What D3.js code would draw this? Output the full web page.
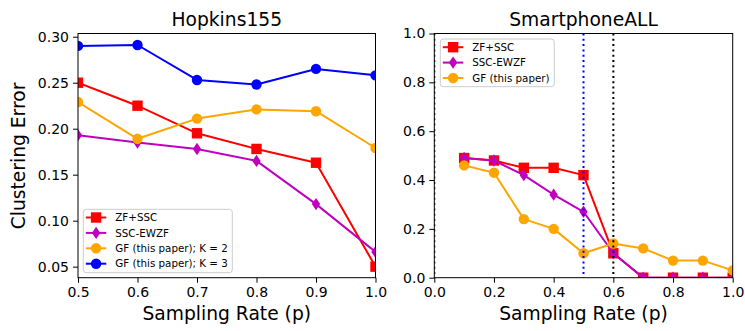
<!DOCTYPE html>
<html><head><meta charset="utf-8">
<script src="https://cdn.jsdelivr.net/npm/d3@7"></script>
<style>body{margin:0;background:#fff}svg{font-family:"DejaVu Sans",sans-serif}</style>
</head><body>
<svg id="c" width="745" height="331"></svg>
<script>
// ---- Data ----
const hopX = [0.5, 0.6, 0.7, 0.8, 0.9, 1.0];
const hopZF = [0.250, 0.225, 0.195, 0.178, 0.163, 0.050];
const hopEWZF = [0.193, 0.185, 0.178, 0.165, 0.118, 0.066];
const hopGF2 = [0.229, 0.189, 0.211, 0.221, 0.219, 0.179];
const hopGF3 = [0.290, 0.291, 0.253, 0.248, 0.265, 0.258];
const hopYTicks = [0.05, 0.10, 0.15, 0.20, 0.25, 0.30];
const hopXTicks = [0.5, 0.6, 0.7, 0.8, 0.9, 1.0];

const smX = [0.1, 0.2, 0.3, 0.4, 0.5, 0.6, 0.7, 0.8, 0.9, 1.0];
const smZF = [0.49, 0.48, 0.45, 0.45, 0.42, 0.10, 0.0, 0.0, 0.0, 0.0];
const smEWZF = [0.49, 0.48, 0.42, 0.34, 0.27, 0.10, 0.0, 0.0, 0.0, 0.0];
const smGF = [0.46, 0.43, 0.24, 0.20, 0.10, 0.14, 0.12, 0.07, 0.07, 0.03];
const smTicks = [0.0, 0.2, 0.4, 0.6, 0.8, 1.0];
const smVLines = [{x: 0.0, color: "#000000"}, {x: 0.5, color: "#0000ff"}, {x: 0.6, color: "#000000"}];

const svg = d3.select("#c");

function marker(g, type, color) {
  if (type === "s") {
    g.append("rect").attr("x", -5.2).attr("y", -5.2).attr("width", 10.4).attr("height", 10.4).attr("fill", color);
  } else if (type === "d") {
    g.append("path").attr("d", "M0,-6.2L4.2,0L0,6.2L-4.2,0Z").attr("fill", color);
  } else {
    g.append("circle").attr("r", 5.2).attr("fill", color);
  }
}

function panel(opt) {
  const {left, right, top, bottom, xdom, ydom, xticks, yticks, xfmt, yfmt, series, title, vlines, legend, id} = opt;
  const x = d3.scaleLinear().domain(xdom).range([left, right]);
  const y = d3.scaleLinear().domain(ydom).range([bottom, top]);
  const g = svg.append("g");
  g.append("clipPath").attr("id", id).append("rect")
    .attr("x", left).attr("y", top).attr("width", right - left).attr("height", bottom - top);
  const plot = g.append("g").attr("clip-path", `url(#${id})`);
  series.forEach(s => {
    const pts = s.x.map((xv, i) => [x(xv), y(s.y[i])]);
    plot.append("path").attr("d", d3.line()(pts)).attr("fill", "none")
      .attr("stroke", s.color).attr("stroke-width", 2).attr("stroke-linejoin", "round");
    pts.forEach(p => {
      const mg = plot.append("g").attr("transform", `translate(${p[0]},${p[1]})`);
      marker(mg, s.marker, s.color);
    });
  });
  (vlines || []).forEach(v => {
    plot.append("line").attr("x1", x(v.x)).attr("x2", x(v.x)).attr("y1", top).attr("y2", bottom)
      .attr("stroke", v.color).attr("stroke-width", 2).attr("stroke-dasharray", "2,3.3");
  });
  // axes
  const xa = g.append("g").attr("transform", `translate(0,${bottom})`)
    .call(d3.axisBottom(x).tickValues(xticks).tickFormat(d3.format(xfmt)).tickSizeOuter(0).tickSize(5).tickPadding(4));
  const ya = g.append("g").attr("transform", `translate(${left},0)`)
    .call(d3.axisLeft(y).tickValues(yticks).tickFormat(d3.format(yfmt)).tickSizeOuter(0).tickSize(5).tickPadding(4));
  [xa, ya].forEach(a => {
    a.select(".domain").remove();
    a.selectAll("text").attr("font-size", 14).attr("fill", "#000").attr("font-family", "DejaVu Sans");
    a.selectAll("line").attr("stroke", "#000").attr("stroke-width", 1);
  });
  g.append("rect").attr("x", left).attr("y", top).attr("width", right - left).attr("height", bottom - top)
    .attr("fill", "none").attr("stroke", "#000").attr("stroke-width", 1);
  g.append("text").attr("x", (left + right) / 2).attr("y", 26).attr("text-anchor", "middle")
    .attr("font-size", 18.7).text(title);
  g.append("text").attr("x", (left + right) / 2).attr("y", 320).attr("text-anchor", "middle")
    .attr("font-size", 18.7).text("Sampling Rate (p)");
  // legend
  const L = legend;
  const lg = g.append("g");
  lg.append("rect").attr("x", L.x).attr("y", L.y).attr("width", L.w).attr("height", L.h)
    .attr("rx", 3).attr("fill", "#fff").attr("fill-opacity", 0.8).attr("stroke", "#cccccc");
  series.forEach((s, i) => {
    const cy = L.y + 8.2 + i * 15.4;
    lg.append("line").attr("x1", L.x + 2.5).attr("x2", L.x + 23).attr("y1", cy).attr("y2", cy)
      .attr("stroke", s.color).attr("stroke-width", 2);
    const mg = lg.append("g").attr("transform", `translate(${L.x + 12.8},${cy})`);
    marker(mg, s.marker, s.color);
    lg.append("text").attr("x", L.x + 32).attr("y", cy + 3.7).attr("font-size", 10.3).text(s.label);
  });
  return {x, y};
}

panel({
  id: "clipL", left: 78, right: 375.5, top: 33.5, bottom: 277.7,
  xdom: [0.5, 1.0], ydom: [0.038, 0.3035], xticks: hopXTicks, yticks: hopYTicks, xfmt: ".1f", yfmt: ".2f",
  title: "Hopkins155",
  series: [
    {x: hopX, y: hopZF, color: "#ff0000", marker: "s", label: "ZF+SSC"},
    {x: hopX, y: hopEWZF, color: "#bf00bf", marker: "d", label: "SSC-EWZF"},
    {x: hopX, y: hopGF2, color: "#ffa500", marker: "o", label: "GF (this paper); K = 2"},
    {x: hopX, y: hopGF3, color: "#0000ff", marker: "o", label: "GF (this paper); K = 3"}
  ],
  legend: {x: 83.3, y: 209.3, w: 149, h: 63.4}
});

panel({
  id: "clipR", left: 434.3, right: 732.7, top: 33.5, bottom: 277.7,
  xdom: [0, 1], ydom: [0, 1], xticks: smTicks, yticks: smTicks, xfmt: ".1f", yfmt: ".1f",
  title: "SmartphoneALL", vlines: smVLines,
  series: [
    {x: smX, y: smZF, color: "#ff0000", marker: "s", label: "ZF+SSC"},
    {x: smX, y: smEWZF, color: "#bf00bf", marker: "d", label: "SSC-EWZF"},
    {x: smX, y: smGF, color: "#ffa500", marker: "o", label: "GF (this paper)"}
  ],
  legend: {x: 440.3, y: 39, w: 114, h: 47.7}
});

svg.append("text").attr("transform", "translate(25,156) rotate(-90)").attr("text-anchor", "middle")
  .attr("font-size", 18.7).text("Clustering Error");
</script>
</body></html>
